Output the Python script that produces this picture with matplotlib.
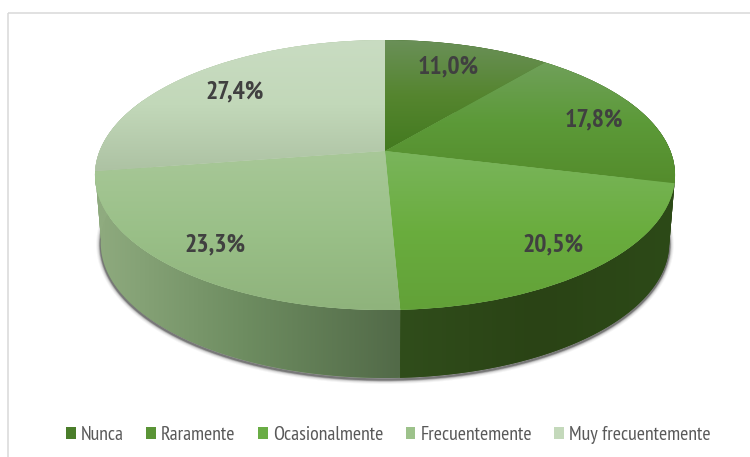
import numpy as np
import matplotlib
matplotlib.use("Agg")
import matplotlib.pyplot as plt
from matplotlib import font_manager as fm
from matplotlib.colors import to_rgb
from matplotlib.patches import Rectangle
from matplotlib.transforms import Transform

categories = ["Nunca", "Raramente", "Ocasionalmente", "Frecuentemente", "Muy frecuentemente"]
values = [11.0, 17.8, 20.5, 23.3, 27.4]
base_colors = ["#4a7d2a", "#5a9436", "#6aad45", "#9dc28b", "#c4d9bb"]

top_stops = [["#6a9058", "#55852f", "#437a1f"],
             ["#70a05a", "#5c9a38", "#548c2c"],
             ["#7ab55c", "#6aad3e", "#62a138"],
             ["#a8c898", "#9ac088", "#8fb37c"],
             ["#c9dcc2", "#c2d8b9", "#adc2a3"]]
wall_stops = [["#2d4a17", "#2d4a17", "#2d4a17"],
              ["#2d4a17", "#2d4a17", "#2d4a17"],
              ["#304d1b", "#2a4315", "#2d4a18"],
              ["#8fab7f", "#6d8c60", "#526a48"],
              ["#8fab7f", "#8fab7f", "#8fab7f"]]
label_px = [(448, 67), (594, 120), (553, 245), (215, 245), (235, 92)]

CX, CY, A, B, K = 385.0, 151.0, 285.4, 130.7, 0.178
DEPTH, SHRINK = 68.0, 0.98

names = {f.name for f in fm.fontManager.ttflist}
FONT = next(n for n in ["Liberation Sans Narrow", "PT Sans Narrow", "Pragati Narrow", "Archivo Narrow",
                        "Roboto Condensed", "Liberation Sans"] if n in names)


def project(x, y):
    d = 1 + K * y
    return CX + A * x / d, CY - B * y / d


class Perspective(Transform):
    input_dims = output_dims = 2
    is_affine = False

    def transform_non_affine(self, xy):
        xy = np.asarray(xy, float)
        return np.column_stack(project(xy[:, 0], xy[:, 1]))


def ramp(stops, n=256):
    rgb = np.array([to_rgb(c) for c in stops])
    t = np.linspace(0, 1, n)
    return np.column_stack([np.interp(t, np.linspace(0, 1, len(stops)), rgb[:, i]) for i in range(3)])


def bottom_edge(phi):
    x, y = project(np.sin(phi), np.cos(phi))
    return CX + (x - CX) * SHRINK, y + DEPTH


fig = plt.figure(figsize=(7.5, 4.57), dpi=100, facecolor="white")
ax = fig.add_axes([0, 0, 1, 1])
wedges, _ = ax.pie(values, colors=base_colors, startangle=90, counterclock=False, radius=1)
ax.set_aspect("auto")
persp = Perspective()
for w in wedges:
    w.set_transform(persp + ax.transData)
    w.set_zorder(5)
    w.set_linewidth(0)

edges = np.radians(np.concatenate([[0], np.cumsum(values)]) * 360 / sum(values))

# soft shadow under the rim
phi = np.radians(np.linspace(80, 280, 300))
sx, sy = bottom_edge(phi)
for lw, al in [(9, .05), (7, .08), (5, .14), (3.5, .24), (2.2, .4)]:
    ax.plot(sx, sy + 1.5, color="#333333", lw=lw * .72, alpha=al, zorder=1, solid_capstyle="butt")

# side walls
for i in range(len(values)):
    p = np.linspace(edges[i], edges[i + 1], 120)
    ux, uy = project(np.sin(p), np.cos(p))
    lx, ly = bottom_edge(p)
    poly = ax.fill(np.r_[ux, lx[::-1]], np.r_[uy, ly[::-1]], color=wall_stops[i][1], lw=0, zorder=2)[0]
    x0, x1 = (95, 400) if i == 3 else (min(ux.min(), lx.min()), max(ux.max(), lx.max()))
    im = ax.imshow(ramp(wall_stops[i])[None, :, :], extent=(x0, x1, 400, 100), aspect="auto",
                   interpolation="bilinear", zorder=3)
    im.set_clip_path(poly)

# top faces
for i, w in enumerate(wedges):
    p = np.linspace(edges[i], edges[i + 1], 120)
    ux, uy = project(np.sin(p), np.cos(p))
    y0, y1 = min(uy.min(), CY), max(uy.max(), CY)
    im = ax.imshow(ramp(top_stops[i])[:, None, :], extent=(80, 690, y1, y0), aspect="auto",
                   interpolation="bilinear", zorder=6)
    im.set_clip_path(w)

# value labels
for v, (px, py) in zip(values, label_px):
    ax.text(px, py, f"{v:.1f}".replace(".", ",") + "%", ha="center", va="center", family=FONT,
            fontsize=18.5, fontweight="bold", color="#404040", zorder=8)

# frame
ax.add_patch(Rectangle((8, 13), 800, 500, fill=False, ec="#d9d9d9", lw=1.1, zorder=0, clip_on=True))

ax.set_xlim(0, 750)
ax.set_ylim(457, 0)
ax.set_axis_off()

leg = ax.legend(wedges, categories, ncol=5, loc="center", bbox_to_anchor=(388.5 / 750, 1 - 435 / 457),
                frameon=False, prop={"family": FONT, "size": 14.3}, labelcolor="#595959",
                handlelength=0.5, handleheight=0.5, handletextpad=0.25, columnspacing=1.12, borderpad=0)
leg.set_zorder(9)

fig.savefig("out.png", dpi=100, facecolor="white")
